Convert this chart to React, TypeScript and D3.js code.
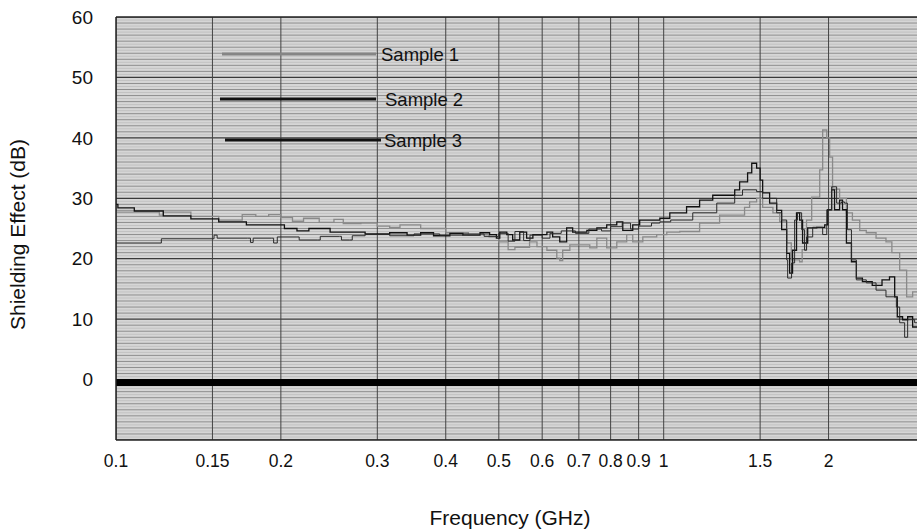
import React from 'react';
import * as d3 from 'd3';

type Pt = [number, number];

// Frequency (GHz) / shielding (dB) pairs
const sample1: Pt[] = [
  [0.1, 27.7], [0.118, 27.7], [0.12, 27.2], [0.122, 27.7], [0.137, 27.0], [0.154, 26.4],
  [0.17, 27.3], [0.18, 27.0], [0.19, 27.3], [0.2, 26.8], [0.21, 26.2], [0.22, 26.7],
  [0.235, 26.0], [0.25, 26.5], [0.26, 25.8], [0.28, 25.9], [0.3, 25.4], [0.316, 25.2],
  [0.33, 25.6], [0.36, 25.0], [0.4, 24.3], [0.44, 24.0], [0.48, 23.6], [0.5, 22.8],
  [0.52, 21.5], [0.535, 21.9], [0.569, 22.8], [0.587, 22.0], [0.612, 21.4], [0.638, 20.1],
  [0.646, 19.7], [0.654, 21.4], [0.674, 22.3], [0.711, 22.3], [0.733, 21.8], [0.755, 23.4],
  [0.787, 21.8], [0.821, 22.8], [0.856, 24.0], [0.878, 22.8], [0.916, 23.6], [0.971, 24.0],
  [1.013, 24.4], [1.07, 24.5], [1.163, 25.9], [1.265, 27.2], [1.405, 28.5], [1.435, 29.4],
  [1.478, 30.0], [1.516, 28.5], [1.583, 27.6], [1.629, 26.1], [1.677, 22.6], [1.71, 19.8],
  [1.771, 19.5], [1.79, 21.5], [1.823, 26.4], [1.863, 30.2], [1.927, 34.7], [1.951, 41.3],
  [1.985, 40.0], [2.009, 36.8], [2.034, 31.5], [2.095, 30.0], [2.156, 27.6], [2.211, 26.4],
  [2.28, 24.7], [2.344, 24.3], [2.442, 23.4], [2.546, 22.8], [2.61, 21.0], [2.697, 18.1],
  [2.777, 13.7], [2.848, 14.5], [2.93, 14.8],
];

const sample2: Pt[] = [
  [0.1, 29.0], [0.1008, 28.4], [0.108, 27.9], [0.122, 27.1], [0.137, 26.6], [0.154, 26.1],
  [0.173, 25.6], [0.203, 25.0], [0.214, 24.6], [0.225, 25.0], [0.246, 24.4], [0.285, 24.1],
  [0.316, 24.3], [0.34, 23.9], [0.36, 24.3], [0.38, 23.8], [0.407, 24.2], [0.43, 23.9],
  [0.462, 24.3], [0.481, 24.0], [0.495, 23.4], [0.502, 24.4], [0.517, 24.0], [0.53, 23.1],
  [0.546, 24.4], [0.562, 23.4], [0.577, 24.0], [0.612, 24.4], [0.627, 23.6], [0.646, 22.8],
  [0.665, 25.1], [0.682, 24.4], [0.724, 24.7], [0.755, 25.1], [0.787, 25.6], [0.821, 26.1],
  [0.842, 24.7], [0.878, 25.6], [0.904, 26.4], [0.943, 26.4], [0.984, 26.7], [1.026, 27.6],
  [1.038, 27.6], [1.101, 28.6], [1.163, 29.7], [1.229, 30.5], [1.348, 31.4], [1.376, 32.7],
  [1.423, 34.2], [1.448, 35.8], [1.478, 35.0], [1.5, 33.0], [1.516, 30.9], [1.561, 29.2],
  [1.608, 28.0], [1.642, 24.8], [1.677, 20.9], [1.698, 17.6], [1.719, 21.4], [1.748, 27.6],
  [1.771, 26.4], [1.793, 22.6], [1.832, 25.1], [1.903, 25.2], [1.968, 25.6], [1.993, 28.1],
  [2.026, 31.4], [2.051, 28.1], [2.095, 29.7], [2.121, 28.1], [2.156, 22.6], [2.202, 19.5],
  [2.248, 16.8], [2.306, 16.2], [2.403, 15.6], [2.504, 16.5], [2.584, 17.0], [2.641, 13.7],
  [2.67, 10.4], [2.73, 9.9], [2.789, 10.4], [2.848, 8.7], [2.93, 8.2],
];

const sample3: Pt[] = [
  [0.1, 22.6], [0.121, 23.3], [0.15, 23.3], [0.151, 23.9], [0.153, 23.4], [0.174, 23.4],
  [0.176, 22.7], [0.178, 23.4], [0.192, 23.4], [0.194, 22.6], [0.197, 23.6], [0.214, 23.6],
  [0.216, 23.1], [0.233, 23.1], [0.236, 23.7], [0.256, 23.7], [0.258, 23.1], [0.267, 23.1],
  [0.27, 23.8], [0.285, 24.0], [0.316, 23.8], [0.35, 24.1], [0.39, 23.9], [0.43, 24.1],
  [0.47, 23.7], [0.5, 24.2], [0.52, 22.9], [0.535, 24.5], [0.555, 23.0], [0.57, 23.9],
  [0.6, 23.4], [0.62, 24.2], [0.65, 24.6], [0.69, 24.2], [0.73, 24.9], [0.77, 24.6],
  [0.8, 25.3], [0.84, 25.9], [0.87, 24.9], [0.9, 25.4], [0.95, 25.9], [0.984, 26.1],
  [1.03, 26.4], [1.13, 27.6], [1.25, 29.2], [1.348, 30.5], [1.393, 31.4], [1.478, 31.1],
  [1.516, 30.0], [1.608, 27.6], [1.642, 26.4], [1.677, 19.8], [1.684, 16.8], [1.712, 19.3],
  [1.734, 26.4], [1.755, 27.6], [1.786, 24.8], [1.808, 21.4], [1.823, 23.6], [1.871, 25.2],
  [1.951, 24.0], [1.985, 28.1], [2.026, 31.9], [2.069, 29.2], [2.112, 29.4], [2.138, 29.2],
  [2.165, 24.8], [2.202, 19.8], [2.248, 16.5], [2.344, 16.0], [2.442, 14.8], [2.546, 13.7],
  [2.66, 12.0], [2.697, 9.4], [2.754, 7.0], [2.789, 9.9], [2.872, 9.4], [2.93, 7.6],
];

const seriesNames = ['Sample 1', 'Sample 2', 'Sample 3'];
const xTicks = [0.1, 0.15, 0.2, 0.3, 0.4, 0.5, 0.6, 0.7, 0.8, 0.9, 1, 1.5, 2, 3];
const yTicks = [0, 10, 20, 30, 40, 50, 60];
const baselineDb = -0.5; // thick reference line just under 0 dB

const W = 917;
const H = 530;
const plot = { left: 116, right: 925, top: 17, bottom: 440 };
const font = '"Liberation Sans", Arial, sans-serif';

const x = d3.scaleLog().domain([0.1, 3]).range([plot.left, plot.right]);
const y = d3.scaleLinear().domain([-10, 60]).range([plot.bottom, plot.top]);

const line = d3.line<Pt>()
  .x((d) => x(d[0]))
  .y((d) => y(d[1]))
  .curve(d3.curveStepAfter);

// fine horizontal ruling, every half dB
const minorRules = d3.range(-20, 121).map((v) => v / 2);

const styles = [
  { data: sample1, stroke: '#8a8a8a', width: 1.3, legend: 3, legendColor: '#858585' },
  { data: sample2, stroke: '#111', width: 1.3, legend: 3, legendColor: '#111' },
  { data: sample3, stroke: '#2a2a2a', width: 1, legend: 3, legendColor: '#111' },
];

// legend rows: line start/end and label anchor
const legendRows = [
  { x1: 222, x2: 376, y: 54, tx: 381, ty: 61 },
  { x1: 220, x2: 376, y: 99, tx: 385, ty: 106 },
  { x1: 225, x2: 381, y: 140, tx: 384, ty: 147 },
];

const App: React.FC = () => {
  const right = W;
  return (
    <div style={{ position: 'absolute', left: 0, top: 0 }}>
      <svg width={W} height={H} style={{ display: 'block', background: '#fff' }}>
        <defs>
          <clipPath id="plot">
            <rect x={plot.left} y={plot.top} width={right - plot.left} height={plot.bottom - plot.top} />
          </clipPath>
        </defs>
        <rect x={plot.left} y={plot.top} width={right - plot.left} height={plot.bottom - plot.top} fill="#d6d6d6" />
        <g clipPath="url(#plot)">
          {minorRules.map((v) => {
            const major = v % 10 === 0;
            const whole = Number.isInteger(v);
            return (
              <line
                key={`h${v}`}
                x1={plot.left}
                x2={right}
                y1={y(v)}
                y2={y(v)}
                stroke={major ? '#3a3a3a' : whole ? '#8e8e8e' : '#c2c2c2'}
                strokeWidth={major ? 1.2 : 1}
              />
            );
          })}
          {xTicks.map((t) => (
            <line key={`v${t}`} x1={x(t)} x2={x(t)} y1={plot.top} y2={plot.bottom} stroke="#444" strokeWidth={1} />
          ))}
          <line x1={plot.left} x2={right} y1={y(baselineDb)} y2={y(baselineDb)} stroke="#000" strokeWidth={7} />
          {styles.map((s, i) => (
            <path key={seriesNames[i]} d={line(s.data) ?? ''} fill="none" stroke={s.stroke} strokeWidth={s.width} />
          ))}
        </g>
        <line x1={plot.left} x2={right} y1={plot.top} y2={plot.top} stroke="#222" strokeWidth={1.5} />
        <line x1={plot.left} x2={right} y1={plot.bottom} y2={plot.bottom} stroke="#222" strokeWidth={1.5} />
        <line x1={plot.left} x2={plot.left} y1={plot.top} y2={plot.bottom} stroke="#222" strokeWidth={1.5} />

        {legendRows.map((r, i) => (
          <g key={seriesNames[i]}>
            <line x1={r.x1} x2={r.x2} y1={r.y} y2={r.y} stroke={styles[i].legendColor} strokeWidth={styles[i].legend} />
            <text x={r.tx} y={r.ty} fontFamily={font} fontSize={18.5} fill="#111">{seriesNames[i]}</text>
          </g>
        ))}

        {yTicks.map((t) => (
          <text key={`yl${t}`} x={93} y={y(t)} dy="0.35em" textAnchor="end" fontFamily={font} fontSize={19} fill="#111">
            {t}
          </text>
        ))}
        {xTicks.map((t) => (
          <text key={`xl${t}`} x={x(t)} y={467} textAnchor="middle" fontFamily={font} fontSize={17.5} fill="#111">
            {t}
          </text>
        ))}
        <text
          transform={`translate(25,${(plot.top + plot.bottom) / 2 + 6}) rotate(-90)`}
          textAnchor="middle"
          fontFamily={font}
          fontSize={21}
          fill="#111"
        >
          Shielding Effect (dB)
        </text>
        <text x={510} y={525} textAnchor="middle" fontFamily={font} fontSize={21} fill="#111">
          Frequency (GHz)
        </text>
      </svg>
    </div>
  );
};

export default App;
